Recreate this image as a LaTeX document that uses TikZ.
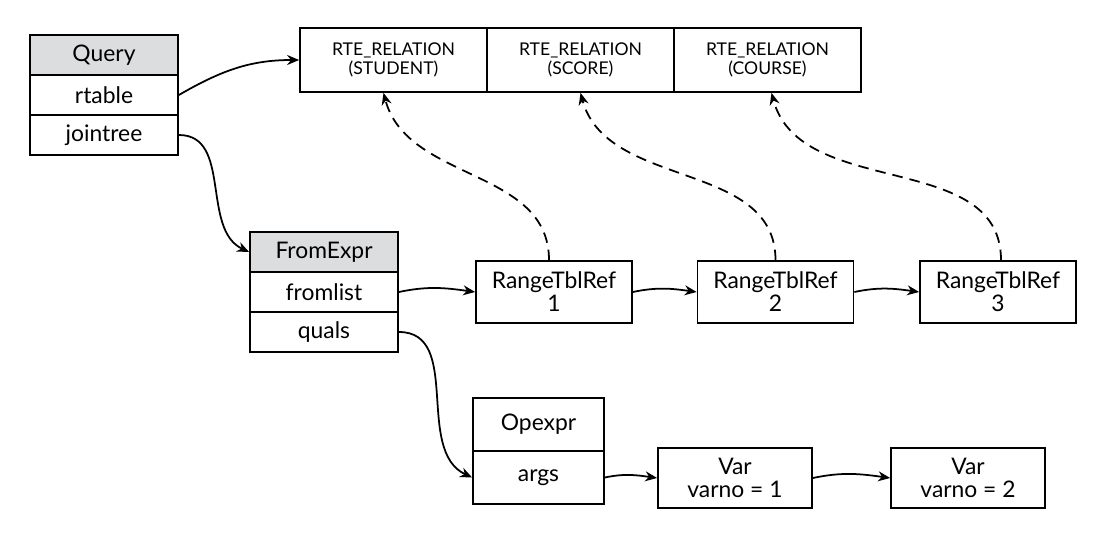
\documentclass[tikz,border=0pt]{standalone}
\usepackage{fontspec}
\setmainfont{Lato}
\usetikzlibrary{positioning,arrows.meta}
\definecolor{hdrgray}{RGB}{220,221,222}
\tikzset{
  field/.style={draw, line width=1pt, minimum width=2.96cm, minimum height=0.8cm, inner sep=0pt, font=\fontsize{13}{14}\selectfont},
  header/.style={field, fill=hdrgray},
  rte/.style={draw, line width=1pt, minimum width=3.74cm, minimum height=1.28cm, align=center, font=\fontsize{10}{11}\selectfont},
  rtr/.style={draw, line width=1pt, minimum width=3.12cm, minimum height=1.24cm, align=center, inner sep=0pt, font=\fontsize{13}{13}\selectfont},
  link/.style={line width=1pt, -{Stealth[length=2.4mm,width=2mm]}},
  ref/.style={link, dash pattern=on 6pt off 4pt}
}
\begin{document}
\begin{tikzpicture}
            \useasboundingbox (0,0) rectangle (22,-10.86);
            % Query
            \node [header] (query) at (2.08,-1.10) {Query};
            \node [field, below=-1pt of query] (rtable) {rtable};
            \node [field, below=-1pt of rtable] (jointree) {jointree};
            % range table
            \node [rte] (rte1) at (7.87,-1.20) {RTE\_RELATION\\(STUDENT)};
            \node [rte, right=-1pt of rte1] (rte2) {RTE\_RELATION\\(SCORE)};
            \node [rte, right=-1pt of rte2] (rte3) {RTE\_RELATION\\(COURSE)};
            % FromExpr
            \node [header] (fromexpr) at (6.48,-5.04) {FromExpr};
            \node [field, below=-1pt of fromexpr] (fromlist) {fromlist};
            \node [field, below=-1pt of fromlist] (quals) {quals};
            \node [rtr] (rtr1) at (11.08,-5.84) {RangeTblRef\\1};
            \node [rtr] (rtr2) at (15.51,-5.84) {RangeTblRef\\2};
            \node [rtr] (rtr3) at (19.96,-5.84) {RangeTblRef\\3};
            % Opexpr
            \node [field, minimum width=2.62cm, minimum height=1.06cm] (opexpr) at (10.77,-8.49) {Opexpr};
            \node [field, minimum width=2.62cm, minimum height=1.06cm, below=-1pt of opexpr] (args) {args};
            \node [rtr, minimum width=3.08cm, minimum height=1.2cm] (var1) at (14.70,-9.56) {Var\\varno = 1};
            \node [rtr, minimum width=3.08cm, minimum height=1.2cm] (var2) at (19.36,-9.56) {Var\\varno = 2};
            % links
            \draw [link] (rtable.east) to [out=30,in=180] (rte1.west);
            \draw [link] (jointree.east) to [out=0,in=155] (fromexpr.west);
            \draw [link] (fromlist.east) to [out=12,in=172] (rtr1.west);
            \draw [link] (rtr1.east) to [out=12,in=172] (rtr2.west);
            \draw [link] (rtr2.east) to [out=12,in=172] (rtr3.west);
            \draw [link] (quals.east) to [out=0,in=155] (args.west);
            \draw [link] (args.east) to [out=12,in=172] (var1.west);
            \draw [link] (var1.east) to [out=12,in=172] (var2.west);
            \draw [ref] ([xshift=-0.1cm]rtr1.north) to [out=90,in=-75] ([xshift=-0.2cm]rte1.south);
            \draw [ref] (rtr2.north) to [out=90,in=-75] (rte2.south);
            \draw [ref] ([xshift=0.06cm]rtr3.north) to [out=90,in=-75] ([xshift=0.08cm]rte3.south);
        \end{tikzpicture}
\end{document}
